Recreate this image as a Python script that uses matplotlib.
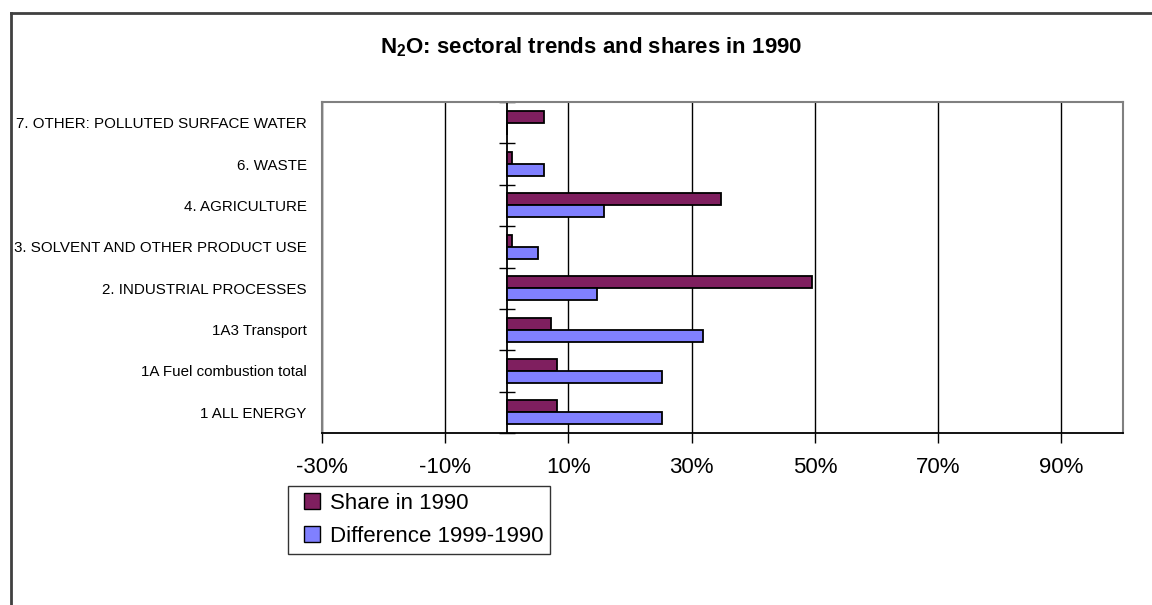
import matplotlib
matplotlib.use("Agg")
import matplotlib.pyplot as plt
from matplotlib.lines import Line2D
from matplotlib.ticker import FuncFormatter
import numpy as np

# data (percent)
sectors = ["1 ALL ENERGY", "1A Fuel combustion total", "1A3 Transport",
           "2. INDUSTRIAL PROCESSES", "3. SOLVENT AND OTHER PRODUCT USE",
           "4. AGRICULTURE", "6. WASTE", "7. OTHER: POLLUTED SURFACE WATER"]
share_1990 = [8.2, 8.2, 7.1, 49.6, 0.9, 34.8, 0.9, 6.1]
diff_1999_1990 = [25.2, 25.2, 31.9, 14.6, 5.1, 15.7, 6.1, 0.0]
x_ticks = [-30, -10, 10, 30, 50, 70, 90]

plt.rcParams['font.family'] = ['Liberation Sans', 'DejaVu Sans']
plt.rcParams['mathtext.fontset'] = 'custom'
plt.rcParams['mathtext.rm'] = 'Liberation Sans:bold'
plt.rcParams['mathtext.bf'] = 'Liberation Sans:bold'

W, H = 1152, 605
fig = plt.figure(figsize=(W / 100, H / 100), dpi=100)
ax = fig.add_axes([322 / W, 1 - 433 / H, (1123 - 322) / W, (433 - 102) / H])

y = np.arange(len(sectors))
h = 0.29
ax.barh(y + h / 2, share_1990, height=h, color="#7f1f5f", edgecolor="black",
        linewidth=1.3, label="Share in 1990", zorder=3)
ax.barh(y - h / 2, diff_1999_1990, height=h, color="#8080ff", edgecolor="black",
        linewidth=1.3, label="Difference 1999-1990", zorder=3)

ax.set_xlim(-30, 100)
ax.set_ylim(-0.5, len(sectors) - 0.5)
ax.set_xticks(x_ticks)
ax.xaxis.set_major_formatter(FuncFormatter(lambda v, p: f"{v:.0f}%"))
ax.tick_params(axis="x", labelsize=16, length=7, width=1, color="black", pad=10)
ax.grid(axis="x", color="black", linewidth=1, zorder=1)

# category labels at the left edge, no ticks there
ax.set_yticks(y)
ax.set_yticklabels(sectors, fontsize=10.9)
ax.tick_params(axis="y", length=0, pad=11)

for s in ["top", "right", "left"]:
    ax.spines[s].set_color("#808080")
    ax.spines[s].set_linewidth(1.5)
ax.spines["bottom"].set_color("black")
ax.spines["bottom"].set_linewidth(1.3)

# category axis through 0 with crossing tick marks
loc0 = (0 - ax.get_xlim()[0]) / (ax.get_xlim()[1] - ax.get_xlim()[0])
cat = ax.secondary_yaxis(loc0)
cat.set_yticks(np.arange(len(sectors) + 1) - 0.5)
cat.set_yticklabels([])
cat.tick_params(direction="inout", length=11, width=1, color="black")
cat.spines["left"].set_color("black")
cat.spines["left"].set_linewidth(1.3)

fig.text(591 / W, 1 - 47 / H, r"N$_{2}$O: sectoral trends and shares in 1990",
         ha="center", va="center", fontsize=16, fontweight="bold")

handles = [Line2D([], [], linestyle="none", marker="s", markersize=11.5,
                  markerfacecolor="#7f1f5f", markeredgecolor="black", label="Share in 1990"),
           Line2D([], [], linestyle="none", marker="s", markersize=11.5,
                  markerfacecolor="#8080ff", markeredgecolor="black", label="Difference 1999-1990")]
leg = fig.legend(handles=handles, loc="upper left",
                 bbox_to_anchor=(288 / W, 1 - 486 / H), bbox_transform=fig.transFigure,
                 fontsize=16, frameon=True, fancybox=False, handlelength=1.6,
                 handletextpad=0.0, borderpad=0.3, labelspacing=0.55,
                 borderaxespad=0)
leg.get_frame().set_edgecolor("black")
leg.get_frame().set_linewidth(1)

# outer chart frame, only top and left visible
fig.add_artist(Line2D([11 / W, 1], [1 - 13 / H, 1 - 13 / H], color="#404040", linewidth=2))
fig.add_artist(Line2D([11 / W, 11 / W], [0, 1 - 13 / H], color="#404040", linewidth=2))

fig.savefig("out.png", dpi=100)
